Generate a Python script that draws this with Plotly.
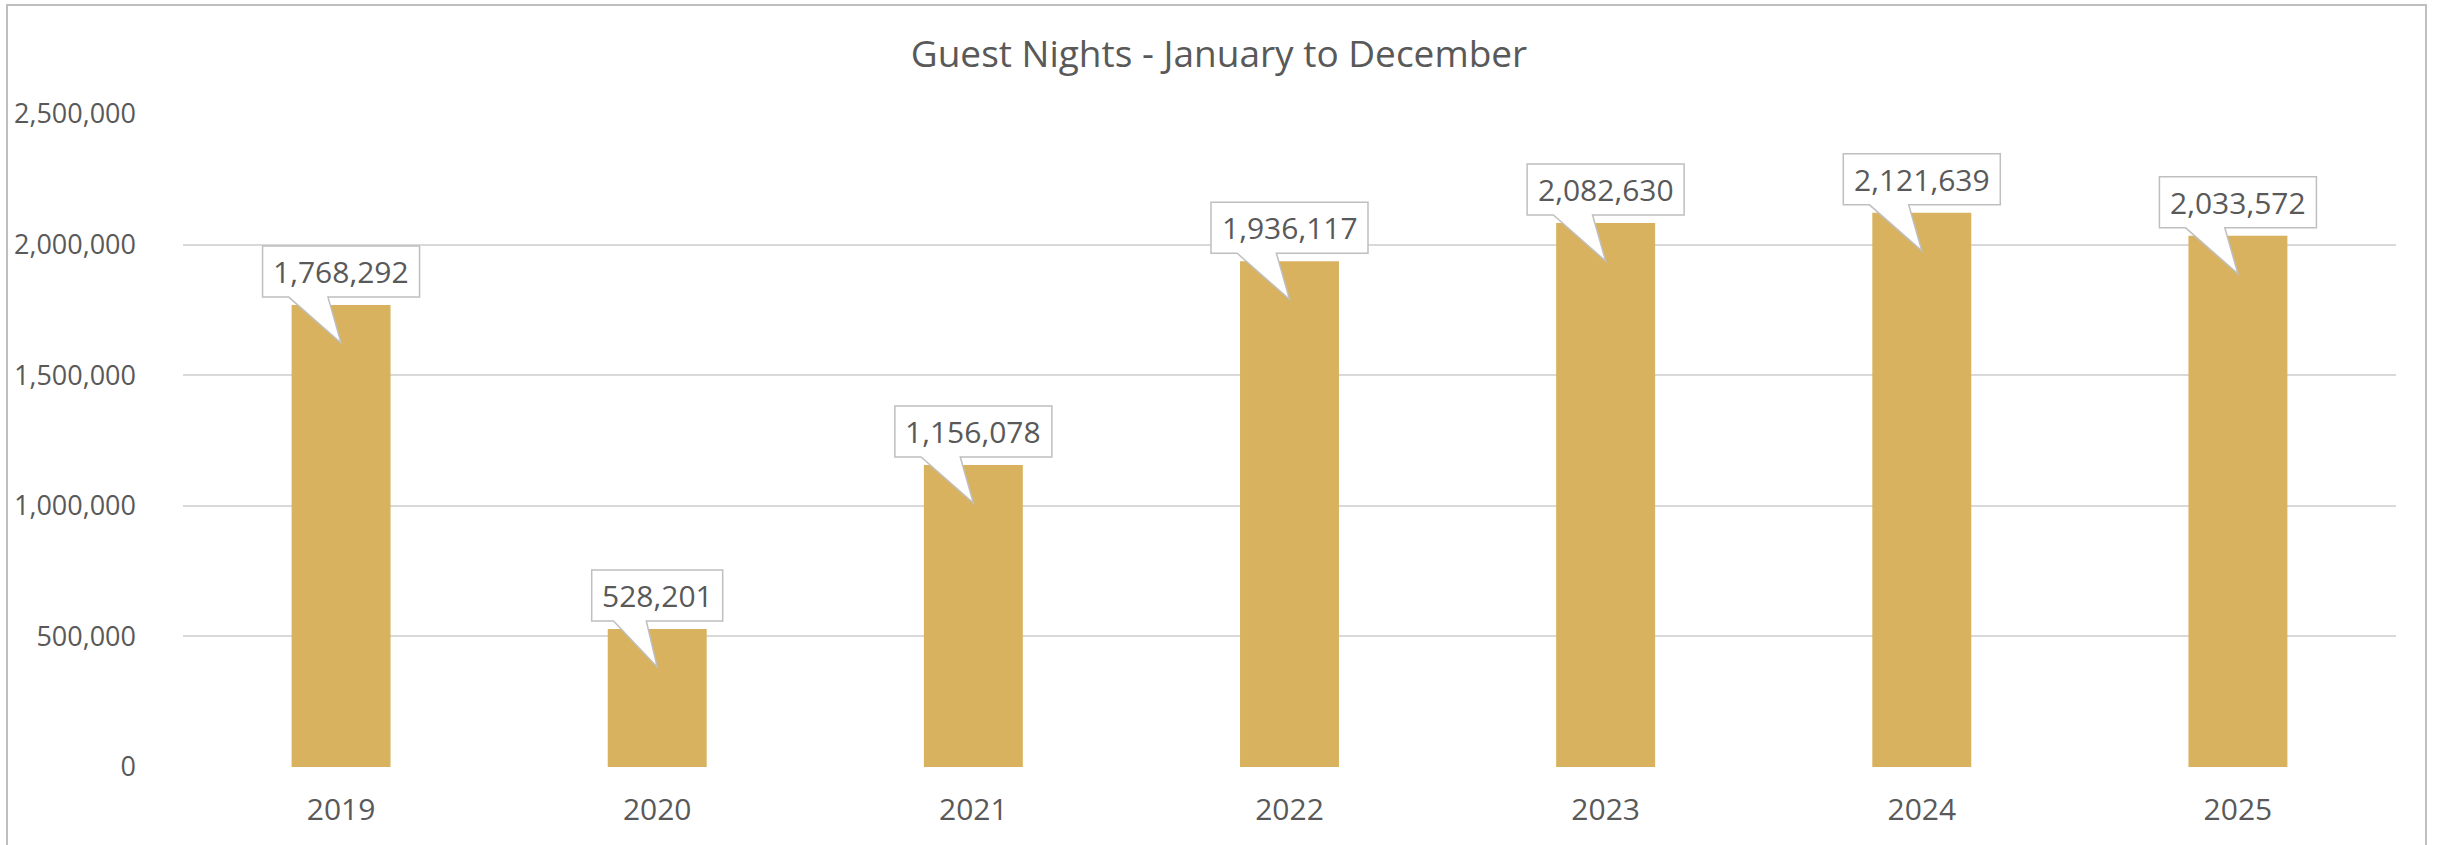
import plotly.graph_objects as go

years = ["2019", "2020", "2021", "2022", "2023", "2024", "2025"]
guest_nights = [1768292, 528201, 1156078, 1936117, 2082630, 2121639, 2033572]
y_ticks = [0, 500000, 1000000, 1500000, 2000000, 2500000]
title_text = "Guest Nights - January to December"

BAR = "#D8B25E"
TXT = "#595959"
GRID = "#D9D9D9"
EDGE = "#BFBFBF"
FONT = "Open Sans"

W, H = 2438, 845
L, R, T, B = 183, 42, 114, 78

fig = go.Figure(go.Bar(x=list(range(len(years))), y=guest_nights,
                       marker=dict(color=BAR, line=dict(width=0)), hoverinfo="y"))

shapes = []
annotations = []
gap, bh, tip = 8, 51, 38
for i, v in enumerate(guest_nights):
    label = f"{v:,}"
    bw = 13 * len(label) + 40
    hw = bw / 2
    pts = [(-hw, gap), (-hw, gap + bh), (hw, gap + bh), (hw, gap),
           (-bw / 12, gap), (0, -tip), (-bw / 3, gap)]
    path = "M " + " L ".join(f"{px:.1f} {py:.1f}" for px, py in pts) + " Z"
    shapes.append(dict(type="path", xref="x", yref="y", xsizemode="pixel", ysizemode="pixel",
                       xanchor=i, yanchor=v, path=path, fillcolor="white",
                       line=dict(color=EDGE, width=1.5), layer="above"))
    annotations.append(dict(x=i, y=v, xref="x", yref="y", text=label, showarrow=False,
                            yshift=gap + bh / 2, font=dict(family=FONT, size=30, color=TXT)))

pw = W - L - R
ph = H - T - B
shapes.append(dict(type="rect", xref="paper", yref="paper",
                   x0=(7 - L) / pw, x1=(2426 - L) / pw,
                   y0=-0.5, y1=(H - B - 5) / ph,
                   line=dict(color="#BFBFBF", width=2), fillcolor="rgba(0,0,0,0)", layer="below"))

fig.update_layout(
    width=W, height=H,
    margin=dict(l=L, r=R, t=T, b=B),
    paper_bgcolor="white", plot_bgcolor="white",
    bargap=0.687,
    showlegend=False,
    title=dict(text=title_text, x=0.5, xanchor="center", xref="container", y=1 - 54 / H, yanchor="middle",
               font=dict(family=FONT, size=37, color=TXT)),
    shapes=shapes, annotations=annotations,
    xaxis=dict(range=[-0.5, len(years) - 0.5], tickvals=list(range(len(years))), ticktext=years,
               showgrid=False, showline=False, zeroline=False,
               tickfont=dict(family=FONT, size=30, color=TXT), ticks="", ticklabelstandoff=22),
    yaxis=dict(range=[0, 2500000], tickvals=y_ticks, tickformat=",d", showgrid=True,
               gridcolor=GRID, gridwidth=2, zeroline=False, showline=False,
               tickfont=dict(family=FONT, size=27, color=TXT), ticks="", ticklabelstandoff=46),
)

fig.write_html("out.html", config={"displayModeBar": False},
               post_script="document.body.style.margin='0';")
